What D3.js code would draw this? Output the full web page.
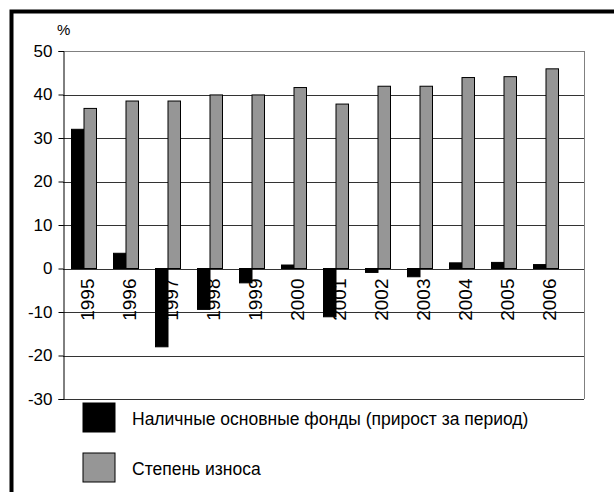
<!DOCTYPE html>
<html>
<head>
<meta charset="utf-8">
<script src="https://cdn.jsdelivr.net/npm/d3@7"></script>
<style>
  body { margin: 0; background: #fff; }
  svg { font-family: "Liberation Sans", Arial, sans-serif; }
</style>
</head>
<body>
<div id="chart"></div>
<script>
// data
const years = ["1995", "1996", "1997", "1998", "1999", "2000", "2001", "2002", "2003", "2004", "2005", "2006"];
const fondy = [32, 3.5, -18, -9.4, -3.3, 0.8, -11.1, -0.9, -1.9, 1.3, 1.4, 0.9];
const iznos = [36.8, 38.5, 38.5, 39.9, 39.9, 41.6, 37.8, 41.9, 41.9, 43.9, 44.1, 45.9];
const yTicks = [-30, -20, -10, 0, 10, 20, 30, 40, 50];
const seriesNames = ["Наличные основные фонды (прирост за период)", "Степень износа"];

const W = 614, H = 492;
const margin = { top: 51, left: 63 },
  width = 521,
  height = 348;

const svg = d3.select("#chart").append("svg")
  .attr("width", W)
  .attr("height", H);

// рамка
svg.append("rect")
  .attr("x", 11.5).attr("y", 11.5)
  .attr("width", W + 20).attr("height", H + 20)
  .attr("fill", "none")
  .attr("stroke", "#000")
  .attr("stroke-width", 4);

const g = svg.append("g").attr("transform", `translate(${margin.left},${margin.top})`);

const y = d3.scaleLinear().domain([-30, 50]).range([height, 0]);
const x = d3.scaleBand().domain(years).range([0, 504]).paddingInner(0).paddingOuter(0);
const xs = d3.scaleBand().domain([0, 1]).range([0, x.bandwidth()]).paddingInner(0).paddingOuter(0.68);

// сетка
g.selectAll(".grid").data(yTicks).enter().append("line")
  .attr("x1", 0).attr("x2", width)
  .attr("y1", d => Math.round(y(d)) + 0.5).attr("y2", d => Math.round(y(d)) + 0.5)
  .attr("stroke", d => d === 50 ? "#808080" : "#333")
  .attr("stroke-width", 1);

g.append("line")
  .attr("x1", width + 0.5).attr("x2", width + 0.5)
  .attr("y1", y(50)).attr("y2", y(-30))
  .attr("stroke", "#808080");

// столбцы
const colors = ["#000000", "#969696"];
[fondy, iznos].forEach((vals, si) => {
  g.selectAll(".bar" + si).data(vals).enter().append("rect")
    .attr("x", (d, i) => x(years[i]) + xs(si))
    .attr("y", d => y(Math.max(0, d)))
    .attr("width", xs.bandwidth())
    .attr("height", d => Math.abs(y(d) - y(0)))
    .attr("fill", colors[si])
    .attr("stroke", "#000")
    .attr("stroke-width", 1);
});

// ось Y
const yAxis = g.append("g")
  .attr("transform", "translate(0.5,0)")
  .call(d3.axisLeft(y).tickValues(yTicks).tickSize(5).tickPadding(6).tickFormat(d => String(d)));
yAxis.selectAll("text").style("font-size", "17px").attr("fill", "#000");
yAxis.selectAll("line, path").attr("stroke", "#000");

g.append("text")
  .attr("x", -6).attr("y", -16)
  .style("font-size", "15px")
  .text("%");

// подписи лет
g.selectAll(".year").data(years).enter().append("text")
  .attr("transform", d => `translate(${x(d) + x.bandwidth() / 2 + 10},${y(0) + 10}) rotate(-90)`)
  .attr("text-anchor", "end")
  .style("font-size", "19px")
  .text(d => d);

// легенда
const legend = svg.append("g").attr("transform", "translate(83,403)");
seriesNames.forEach((name, i) => {
  legend.append("rect")
    .attr("x", 0).attr("y", i * 50)
    .attr("width", 32).attr("height", 29)
    .attr("fill", colors[i])
    .attr("stroke", "#000");
  legend.append("text")
    .attr("x", 49).attr("y", i * 50 + 22)
    .style("font-size", "17.5px")
    .text(name);
});
</script>
</body>
</html>
